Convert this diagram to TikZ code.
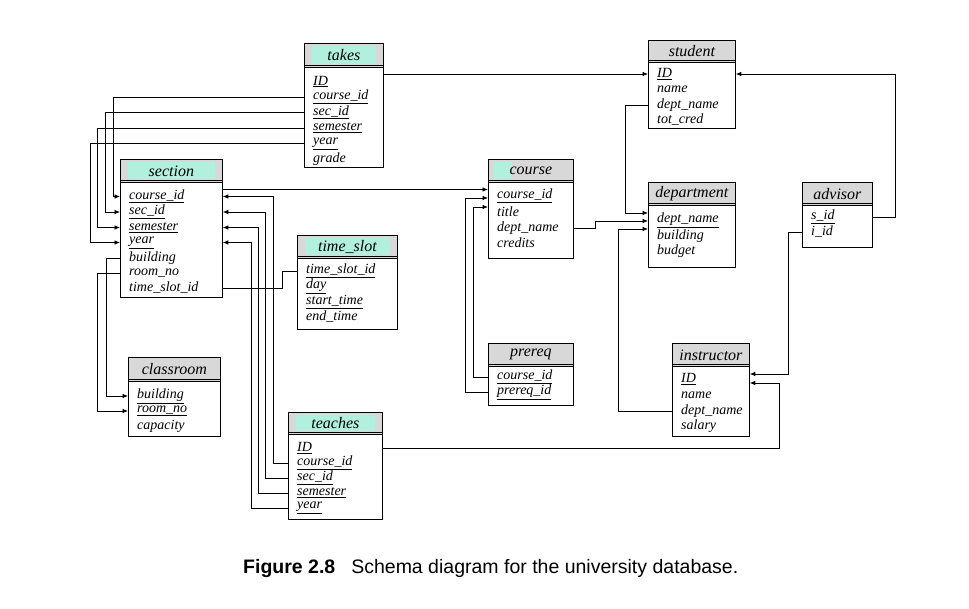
\documentclass[tikz,border=0pt]{standalone}
\usepackage{fontspec}
\setmainfont{Liberation Serif}
\newfontfamily\capfont{Liberation Sans}
\usetikzlibrary{arrows.meta,calc}
\definecolor{hdrgray}{RGB}{216,216,216}
\definecolor{hdrcyan}{RGB}{178,240,222}
\newcommand\mktable[7]{%
  \node[hdr, minimum width=#4pt, minimum height=#5pt] (#1H) at (#2,#3) {};
  \node[box, minimum width=#4pt, minimum height=#6pt] (#1B) at (#2,#3+#5) {};
  \draw[line width=0.5pt] ($(#1H.south west)+(0,-2.5)$) -- ($(#1H.south east)+(0,-2.5)$);
}
\newcommand\mktitle[2]{\node[ttl] (#1T) at (#1H.center) {#2};}
\newcommand\cyanfill[1]{\fill[hdrcyan] ($(#1H.north west)+(8,3)$) rectangle ($(#1H.south east)+(-8,-4)$);}
\begin{document}
\begin{tikzpicture}[x=1pt,y=-1pt,
  box/.style={draw=black, line width=0.8pt, inner sep=0pt, anchor=north west, fill=white},
  hdr/.style={draw=black, line width=0.8pt, inner sep=0pt, anchor=north west, fill=hdrgray},
  ttl/.style={font=\fontsize{16}{18}\selectfont\itshape, inner sep=0pt},
  attr/.style={font=\fontsize{14}{15}\selectfont\itshape, anchor=west, inner sep=0pt},
  fk/.style={line width=0.75pt, -{Latex[length=5.5pt,width=4.5pt]}},
  ln/.style={line width=0.75pt}]
\fill[white] (0,0) rectangle (969,609);
\useasboundingbox (0,0) rectangle (969,609);

% takes
\mktable{tk}{304}{43}{79}{24}{100}{}
\cyanfill{tk}\mktitle{tk}{takes}
\node[attr] (tk-ID)  at (313,81.5) {\underline{ID}};
\node[attr] (tk-cid) at (313,97)   {\underline{course\_id}};
\node[attr] (tk-sid) at (313,112.5){\underline{sec\_id}};
\node[attr] (tk-sem) at (313,128)  {\underline{semester}};
\node[attr] (tk-yr)  at (313,143.5){\underline{year}};
\node[attr] (tk-gr)  at (313,159)  {grade};

% student
\mktable{st}{648}{40}{87}{22}{66}{}
\mktitle{st}{student}
\node[attr] (st-ID) at (657,74)  {\underline{ID}};
\node[attr] (st-nm) at (657,89)  {name};
\node[attr] (st-dn) at (657,105) {dept\_name};
\node[attr] (st-tc) at (657,119.5) {tot\_cred};

% section
\mktable{sc}{120}{159}{102}{23}{115}{}
\cyanfill{sc}\mktitle{sc}{section}
\node[attr] (sc-cid) at (129,196.5) {\underline{course\_id}};
\node[attr] (sc-sid) at (129,212)   {\underline{sec\_id}};
\node[attr] (sc-sem) at (129,227.5) {\underline{semester}};
\node[attr] (sc-yr)  at (129,242.5) {\underline{year}};
\node[attr] (sc-bld) at (129,258)   {building};
\node[attr] (sc-rm)  at (129,273)   {room\_no};
\node[attr] (sc-ts)  at (129,288)   {time\_slot\_id};

% course
\mktable{crs}{488}{159}{85}{23}{76}{}
\fill[hdrcyan] ($(crsH.north west)+(6,3)$) rectangle ($(crsH.south west)+(24,-4)$);
\mktitle{crs}{course}
\node[attr] (crs-cid) at (497,196) {\underline{course\_id}};
\node[attr] (crs-tt)  at (497,212) {title};
\node[attr] (crs-dn)  at (497,228) {dept\_name};
\node[attr] (crs-cr)  at (497,243) {credits};

% department
\mktable{dp}{648}{182}{87}{23}{62}{}
\mktitle{dp}{department}
\node[attr] (dp-dn)  at (657,220) {\underline{dept\_name}};
\node[attr] (dp-bld) at (657,236) {building};
\node[attr] (dp-bud) at (657,251) {budget};

% advisor
\mktable{ad}{802}{182}{70}{23}{42}{}
\mktitle{ad}{advisor}
\node[attr] (ad-sid) at (811,217) {\underline{s\_id}};
\node[attr] (ad-iid) at (811,232) {i\_id};

% time_slot
\mktable{ts}{297}{235}{100}{23}{71}{}
\cyanfill{ts}\mktitle{ts}{time\_slot}
\node[attr] (ts-id)  at (306,271) {\underline{time\_slot\_id}};
\node[attr] (ts-day) at (306,286) {\underline{day}};
\node[attr] (ts-st)  at (306,302) {\underline{start\_time}};
\node[attr] (ts-et)  at (306,317) {end\_time};

% classroom
\mktable{cl}{128}{357}{92}{24}{55}{}
\mktitle{cl}{classroom}
\node[attr] (cl-bld) at (137,396) {\underline{building}};
\node[attr] (cl-rm)  at (137,411) {\underline{room\_no}};
\node[attr] (cl-cap) at (137,426) {capacity};

% prereq
\mktable{pr}{488}{343}{85}{23}{39}{}
\mktitle{pr}{prereq}
\node[attr] (pr-cid) at (497,377) {\underline{course\_id}};
\node[attr] (pr-pid) at (497,392) {\underline{prereq\_id}};

% instructor
\mktable{in}{672}{343}{77}{23}{70}{}
\mktitle{in}{instructor}
\node[attr] (in-ID) at (681,379) {\underline{ID}};
\node[attr] (in-nm) at (681,395) {name};
\node[attr] (in-dn) at (681,411) {dept\_name};
\node[attr] (in-sl) at (681,426) {salary};

% teaches
\mktable{tc}{288}{412}{94}{22}{85}{}
\cyanfill{tc}\mktitle{tc}{teaches}
\node[attr] (tc-ID)  at (297,448) {\underline{ID}};
\node[attr] (tc-cid) at (297,463) {\underline{course\_id}};
\node[attr] (tc-sid) at (297,478) {\underline{sec\_id}};
\node[attr] (tc-sem) at (297,493) {\underline{semester}};
\node[attr] (tc-yr)  at (297,508) {\underline{year}};

% connectors
\draw[fk] (tkB.east |- st-ID) -- (stB.west |- st-ID);

\draw[fk] (tkB.west |- tk-cid) -| ($(scB.west |- sc-cid)+(-7,0)$) -- (scB.west |- sc-cid);
\draw[fk] (tkB.west |- tk-sid) -| ($(scB.west |- sc-sid)+(-15,0)$) -- (scB.west |- sc-sid);
\draw[fk] (tkB.west |- tk-sem) -| ($(scB.west |- sc-sem)+(-23,0)$) -- (scB.west |- sc-sem);
\draw[fk] (tkB.west |- tk-yr) -| ($(scB.west |- sc-yr)+(-30,0)$) -- (scB.west |- sc-yr);

\draw[fk] (scB.west |- sc-bld) -| ($(clB.west |- cl-bld)+(-22,0)$) -- (clB.west |- cl-bld);
\draw[fk] (scB.west |- sc-rm) -| ($(clB.west |- cl-rm)+(-31,0)$) -- (clB.west |- cl-rm);

\draw[fk] ($(scB.east |- sc-cid)+(0,-7)$) -- ($(crsB.west |- sc-cid)+(0,-7)$);
\draw[fk] (prB.west |- pr-cid) -| ($(crsB.west |- crs-cid)+(-15,11)$) -- ($(crsB.west |- crs-cid)+(0,11)$);
\draw[fk] (prB.west |- pr-pid) -| ($(crsB.west |- crs-cid)+(-23,2)$) -- ($(crsB.west |- crs-cid)+(0,2)$);

\draw[fk] (crsB.east |- crs-dn) -| ($(dpB.west |- dp-dn)+(-53,1)$) -- ($(dpB.west |- dp-dn)+(0,1)$);
\draw[fk] (stB.west |- st-dn) -| ($(dpB.west |- dp-dn)+(-23,-7)$) -- ($(dpB.west |- dp-dn)+(0,-7)$);
\draw[fk] (inB.west |- in-dn) -| ($(dpB.west |- dp-dn)+(-30,9)$) -- ($(dpB.west |- dp-dn)+(0,9)$);

\draw[fk] (adB.east |- ad-sid) -| ($(stB.east |- st-ID)+(160,0)$) -- (stB.east |- st-ID);
\draw[fk] (adB.west |- ad-iid) -| ($(inB.east |- in-ID)+(39,-5)$) -- ($(inB.east |- in-ID)+(0,-5)$);
\draw[fk] (tcB.east |- tc-ID) -| ($(inB.east |- in-ID)+(30,4)$) -- ($(inB.east |- in-ID)+(0,4)$);

\draw[fk] (tcB.west |- tc-cid) -| ($(scB.east |- sc-cid)+(51,0)$) -- (scB.east |- sc-cid);
\draw[fk] (tcB.west |- tc-sid) -| ($(scB.east |- sc-sid)+(43,0)$) -- (scB.east |- sc-sid);
\draw[fk] (tcB.west |- tc-sem) -| ($(scB.east |- sc-sem)+(36,0)$) -- (scB.east |- sc-sem);
\draw[fk] (tcB.west |- tc-yr) -| ($(scB.east |- sc-yr)+(29,0)$) -- (scB.east |- sc-yr);

\draw[ln] (scB.east |- sc-ts) -| ($(tsB.west |- ts-id)+(-15,0)$) -- (tsB.west |- ts-id);

% caption
\node[anchor=west, font=\capfont\fontsize{19.5}{22}\selectfont, inner sep=0pt] (cap) at (243,568)
  {\textbf{Figure 2.8}\hspace{16pt}Schema diagram for the university database.};
\end{tikzpicture}
\end{document}
